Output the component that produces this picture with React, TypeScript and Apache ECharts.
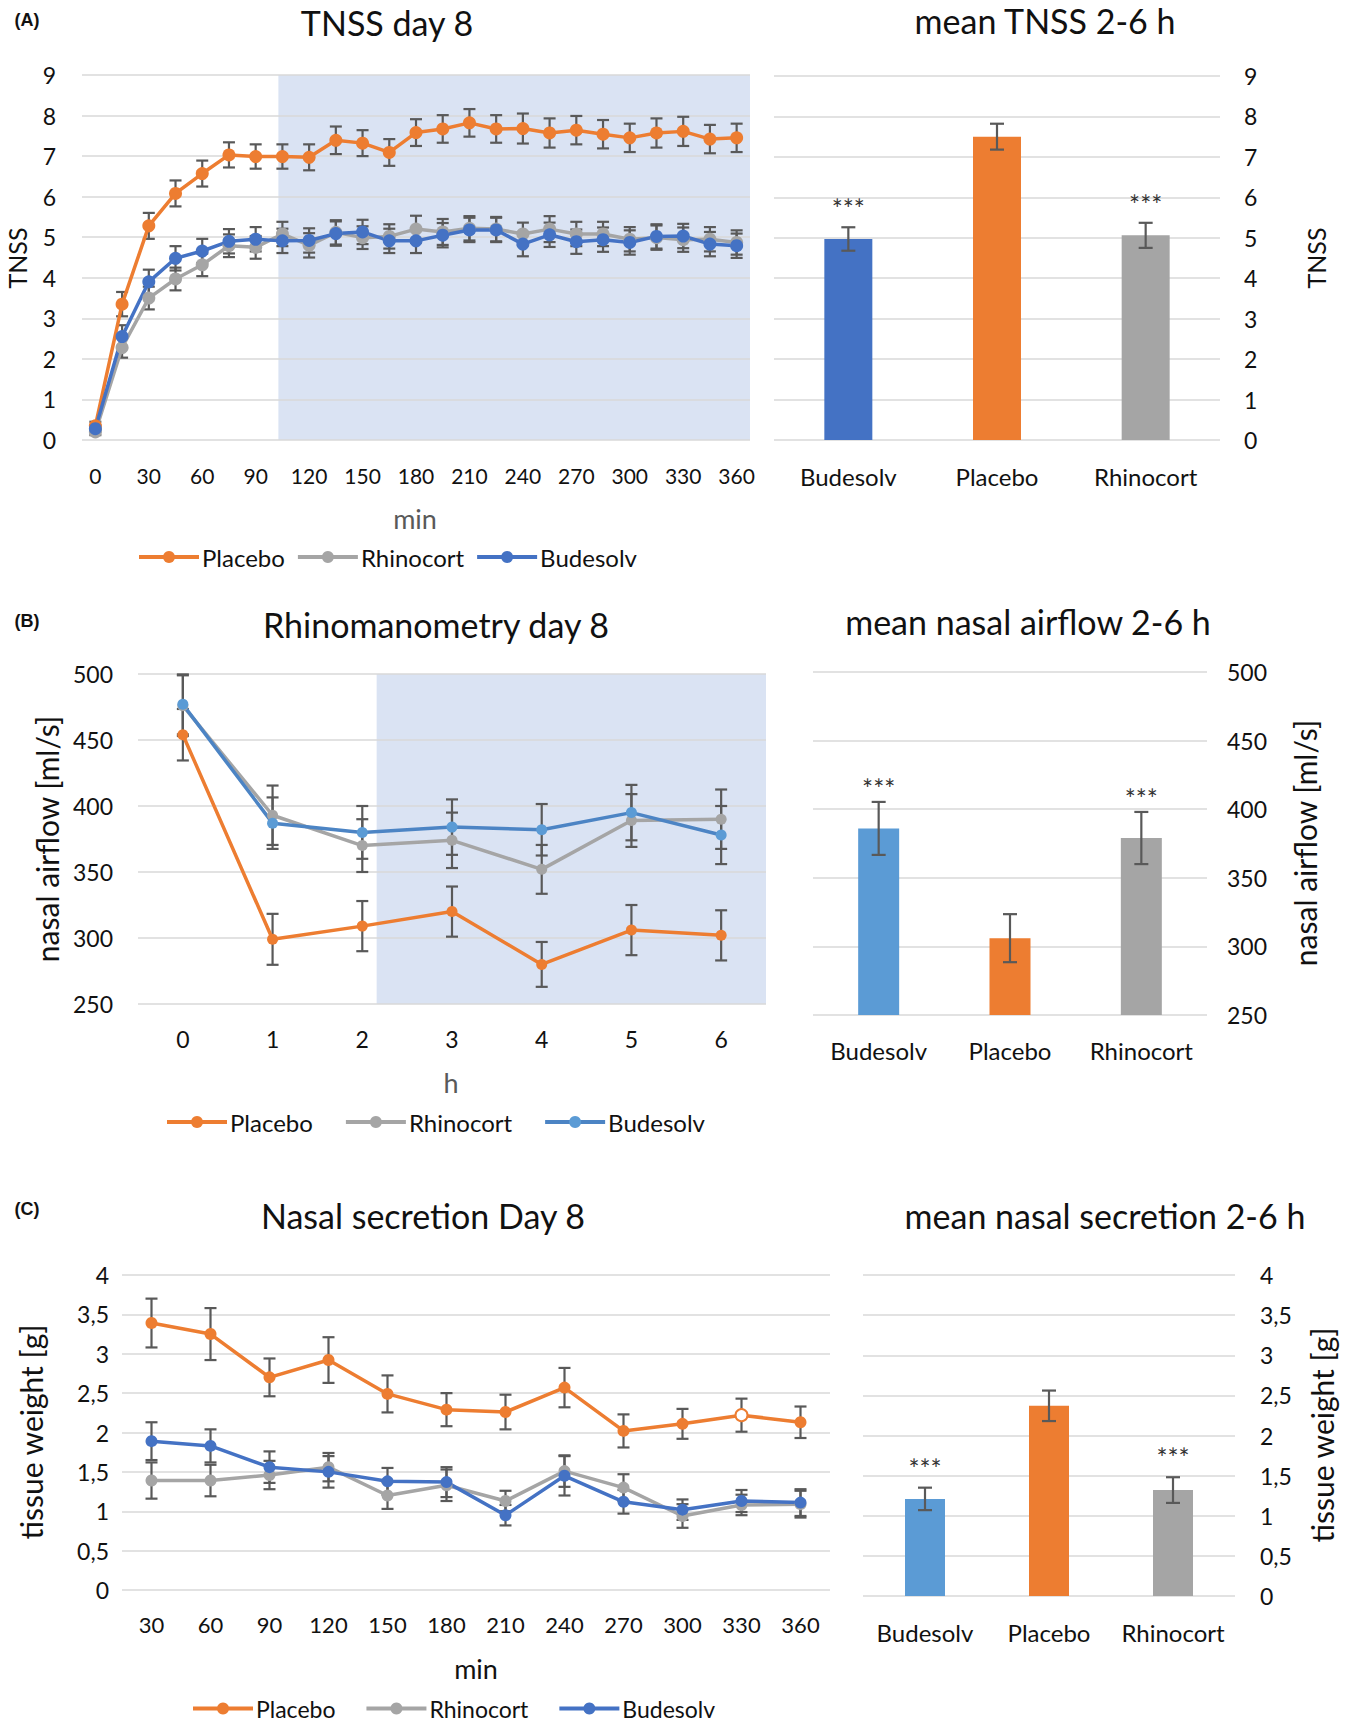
import React, { useEffect, useRef } from 'react';
import * as echarts from 'echarts';

// ---------- Panel A: TNSS ----------
const TNSS_TIME = ['0', '15', '30', '45', '60', '75', '90', '105', '120', '135', '150', '165', '180', '195', '210', '225', '240', '255', '270', '285', '300', '315', '330', '345', '360'];
const TNSS_PLACEBO = [0.35, 3.35, 5.28, 6.08, 6.57, 7.03, 6.99, 6.99, 6.97, 7.39, 7.32, 7.09, 7.58, 7.67, 7.82, 7.67, 7.68, 7.57, 7.64, 7.54, 7.45, 7.57, 7.61, 7.42, 7.45];
const TNSS_PLACEBO_ERR = [0.1, 0.3, 0.32, 0.32, 0.32, 0.31, 0.3, 0.3, 0.32, 0.34, 0.32, 0.33, 0.33, 0.34, 0.34, 0.34, 0.37, 0.36, 0.35, 0.35, 0.35, 0.36, 0.36, 0.35, 0.35];
const TNSS_RHINO = [0.2, 2.28, 3.5, 3.97, 4.32, 4.79, 4.75, 5.08, 4.8, 5.12, 4.99, 5.02, 5.2, 5.13, 5.22, 5.2, 5.08, 5.2, 5.08, 5.08, 4.95, 4.99, 4.94, 4.95, 4.87];
const TNSS_RHINO_ERR = [0.08, 0.25, 0.28, 0.28, 0.28, 0.28, 0.28, 0.3, 0.3, 0.3, 0.28, 0.3, 0.33, 0.32, 0.3, 0.3, 0.28, 0.32, 0.3, 0.3, 0.3, 0.3, 0.3, 0.3, 0.3];
const TNSS_BUDE = [0.28, 2.55, 3.9, 4.48, 4.66, 4.9, 4.95, 4.91, 4.92, 5.09, 5.13, 4.91, 4.91, 5.05, 5.18, 5.18, 4.83, 5.06, 4.89, 4.94, 4.87, 5.02, 5.03, 4.83, 4.79];
const TNSS_BUDE_ERR = [0.08, 0.28, 0.3, 0.3, 0.3, 0.3, 0.3, 0.3, 0.3, 0.3, 0.3, 0.3, 0.3, 0.3, 0.3, 0.3, 0.3, 0.3, 0.3, 0.3, 0.3, 0.3, 0.3, 0.3, 0.3];
const TNSS_SHADE = [7.35, 25]; // shaded band, in category-band units
const GROUPS = ['Budesolv', 'Placebo', 'Rhinocort'];
const TNSS_MEAN = [4.97, 7.5, 5.06];
const TNSS_MEAN_ERR = [0.29, 0.32, 0.31];
const TNSS_SIG = ['***', '', '***'];

// ---------- Panel B: Rhinomanometry ----------
const RHINO_TIME = ['0', '1', '2', '3', '4', '5', '6'];
const AIR_PLACEBO = [454, 299, 309, 320, 280, 306, 302];
const AIR_PLACEBO_ERR = [19.5, 19.3, 19, 19, 17, 19, 19];
const AIR_RHINO = [476, 393, 370, 374, 352, 389, 390];
const AIR_RHINO_ERR = [23, 22.5, 20, 21, 18.5, 20, 22.5];
const AIR_BUDE = [477, 387, 380, 384, 382, 395, 378];
const AIR_BUDE_ERR = [22.7, 19.5, 20, 21, 19.5, 21, 22];
const AIR_SHADE = [2.66, 7];
const AIR_MEAN = [386, 306, 379];
const AIR_MEAN_ERR = [19.3, 17.5, 19];
const AIR_SIG = ['***', '', '***'];

// ---------- Panel C: Nasal secretion ----------
const SEC_TIME = ['30', '60', '90', '120', '150', '180', '210', '240', '270', '300', '330', '360'];
const SEC_PLACEBO = [3.39, 3.25, 2.7, 2.92, 2.49, 2.29, 2.26, 2.57, 2.02, 2.11, 2.22, 2.13];
const SEC_PLACEBO_ERR = [0.31, 0.33, 0.24, 0.29, 0.235, 0.21, 0.22, 0.25, 0.21, 0.19, 0.21, 0.2];
const SEC_RHINO = [1.39, 1.39, 1.46, 1.56, 1.2, 1.33, 1.13, 1.51, 1.3, 0.94, 1.08, 1.09];
const SEC_RHINO_ERR = [0.23, 0.2, 0.18, 0.18, 0.17, 0.2, 0.13, 0.2, 0.17, 0.15, 0.13, 0.17];
const SEC_BUDE = [1.89, 1.83, 1.56, 1.5, 1.38, 1.37, 0.95, 1.45, 1.12, 1.02, 1.13, 1.11];
const SEC_BUDE_ERR = [0.24, 0.21, 0.2, 0.2, 0.17, 0.19, 0.13, 0.25, 0.15, 0.13, 0.14, 0.17];
const SEC_HOLLOW_PLACEBO = [10]; // index of the open marker
const SEC_MEAN = [1.21, 2.37, 1.32];
const SEC_MEAN_ERR = [0.14, 0.19, 0.16];
const SEC_SIG = ['***', '', '***'];

// ---------- style ----------
const FONT = "Lato, 'Open Sans', sans-serif";
const TEXT = '#111111';
const GRID_LINE = '#D9D9D9';
const ERR = '#595959';
const ORANGE = '#ED7D31';
const GRAY = '#A5A5A5';
const BLUE = '#4472C4';
const LBLUE = '#5B9BD5';
const BLUE_B_LINE = '#4C84C4';
const SHADE = '#DAE3F3';

const errRender = (capHalf: number, sig?: string[], sigOffset = 18) => (params: any, api: any) => {
  const c = api.value(0);
  const v = api.value(1);
  const e = api.value(2);
  const top = api.coord([c, v + e]);
  const bot = api.coord([c, v - e]);
  const st = { stroke: ERR, lineWidth: 2.2 };
  const children: any[] = [
    { type: 'line', shape: { x1: top[0], y1: top[1], x2: bot[0], y2: bot[1] }, style: st },
    { type: 'line', shape: { x1: top[0] - capHalf, y1: top[1], x2: top[0] + capHalf, y2: top[1] }, style: st },
    { type: 'line', shape: { x1: bot[0] - capHalf, y1: bot[1], x2: bot[0] + capHalf, y2: bot[1] }, style: st },
  ];
  if (sig && sig[params.dataIndex]) {
    children.push({
      type: 'text',
      x: top[0],
      y: top[1] - sigOffset,
      style: { text: sig[params.dataIndex], fontSize: 26, fontFamily: FONT, fill: '#333', align: 'center', verticalAlign: 'middle' },
    });
  }
  return { type: 'group', children };
};

const shadeRender = (params: any, api: any) => {
  const cs = params.coordSys;
  const x1 = api.coord([api.value(0), 0])[0];
  const x2 = api.coord([api.value(1), 0])[0];
  return { type: 'rect', shape: { x: x1, y: cs.y, width: x2 - x1, height: cs.height }, style: { fill: SHADE } };
};

const catAxis = (gridIndex: number, data: string[], fontSize: number, margin: number, interval = 0) => ({
  type: 'category',
  gridIndex,
  data,
  boundaryGap: true,
  axisLine: { show: false },
  axisTick: { show: false },
  splitLine: { show: false },
  axisLabel: { interval, fontSize, margin, color: TEXT, fontFamily: FONT },
});

const valAxis = (gridIndex: number, min: number, max: number, interval: number, position: string, margin: number, fontSize: number, comma = false) => ({
  type: 'value',
  gridIndex,
  min,
  max,
  interval,
  position,
  axisLine: { show: false },
  axisTick: { show: false },
  splitLine: { show: true, lineStyle: { color: GRID_LINE, width: 1.5 } },
  axisLabel: {
    fontSize,
    margin,
    color: TEXT,
    fontFamily: FONT,
    formatter: (v: number) => (comma ? String(v).replace('.', ',') : String(v)),
  },
});

const lineSeries = (name: string, xi: number, yi: number, data: any[], lineColor: string, markColor: string, size: number) => ({
  name,
  type: 'line',
  xAxisIndex: xi,
  yAxisIndex: yi,
  data,
  symbol: 'circle',
  symbolSize: size,
  showSymbol: true,
  lineStyle: { color: lineColor, width: 3.5 },
  itemStyle: { color: markColor },
  z: 4,
  silent: true,
});

const errSeries = (xi: number, yi: number, vals: number[], errs: number[], cap: number, sig?: string[], off?: number) => ({
  type: 'custom',
  xAxisIndex: xi,
  yAxisIndex: yi,
  data: vals.map((v, i) => [i, v, errs[i]]),
  renderItem: errRender(cap, sig, off),
  z: 3,
  silent: true,
});

const barSeries = (xi: number, yi: number, vals: number[], colors: string[], width: number) => ({
  type: 'bar',
  xAxisIndex: xi,
  yAxisIndex: yi,
  data: vals.map((v, i) => ({ value: v, itemStyle: { color: colors[i] } })),
  barWidth: width,
  z: 2,
  silent: true,
});

const txt = (text: string, x: number, y: number, size: number, o: any = {}) => ({
  type: 'text',
  x,
  y,
  rotation: o.rot || 0,
  silent: true,
  style: {
    text,
    fontSize: size,
    fontFamily: o.family || FONT,
    fontWeight: o.weight || 'normal',
    fill: o.color || TEXT,
    align: 'center',
    verticalAlign: 'middle',
  },
});

const legend = (names: string[], left: number, top: number, gap: number, size = 24) => ({
  data: names,
  left,
  top,
  itemGap: gap,
  itemWidth: 60,
  itemHeight: 15,
  selectedMode: false,
  formatter: (n: string) => n.trim(),
  lineStyle: { width: 4 },
  textStyle: { fontSize: size, fontFamily: FONT, color: TEXT, padding: [0, 0, 0, -2] },
});

function buildOption() {
  const hollow = SEC_PLACEBO.map((v, i) =>
    SEC_HOLLOW_PLACEBO.includes(i) ? { value: v, itemStyle: { color: '#ffffff', borderColor: ORANGE, borderWidth: 2 } } : v
  );
  const R = Math.PI / 2;
  return {
    animation: false,
    backgroundColor: '#ffffff',
    grid: [
      { left: 82, top: 75, width: 668, height: 365 },
      { left: 774, top: 76, width: 446, height: 364 },
      { left: 138, top: 674, width: 628, height: 330 },
      { left: 813, top: 672, width: 394, height: 343 },
      { left: 122, top: 1275, width: 708, height: 315 },
      { left: 863, top: 1275, width: 372, height: 321 },
    ],
    xAxis: [
      catAxis(0, TNSS_TIME, 21, 25, 1),
      { type: 'value', gridIndex: 0, min: 0, max: TNSS_TIME.length, show: false },
      catAxis(1, GROUPS, 24, 24),
      catAxis(2, RHINO_TIME, 23, 23),
      { type: 'value', gridIndex: 2, min: 0, max: RHINO_TIME.length, show: false },
      catAxis(3, GROUPS, 24, 23),
      catAxis(4, SEC_TIME, 22, 23),
      catAxis(5, GROUPS, 24, 24),
    ],
    yAxis: [
      valAxis(0, 0, 9, 1, 'left', 26, 23),
      valAxis(1, 0, 9, 1, 'right', 24, 23),
      valAxis(2, 250, 500, 50, 'left', 25, 23),
      valAxis(3, 250, 500, 50, 'right', 20, 23),
      valAxis(4, 0, 4, 0.5, 'left', 13, 23, true),
      valAxis(5, 0, 4, 0.5, 'right', 25, 23, true),
    ],
    legend: [
      legend(['Placebo', 'Rhinocort', 'Budesolv'], 132, 540, 11),
      legend(['Placebo ', 'Rhinocort ', 'Budesolv '], 160, 1105, 31),
      legend(['Placebo  ', 'Rhinocort  ', 'Budesolv  '], 186, 1692, 29, 23),
    ],
    series: [
      // shading
      { type: 'custom', xAxisIndex: 1, yAxisIndex: 0, data: [TNSS_SHADE], renderItem: shadeRender, z: -1, silent: true },
      { type: 'custom', xAxisIndex: 4, yAxisIndex: 2, data: [AIR_SHADE], renderItem: shadeRender, z: -1, silent: true },
      // Panel A lines
      errSeries(0, 0, TNSS_PLACEBO, TNSS_PLACEBO_ERR, 6),
      errSeries(0, 0, TNSS_RHINO, TNSS_RHINO_ERR, 6),
      errSeries(0, 0, TNSS_BUDE, TNSS_BUDE_ERR, 6),
      lineSeries('Placebo', 0, 0, TNSS_PLACEBO, ORANGE, ORANGE, 13),
      lineSeries('Rhinocort', 0, 0, TNSS_RHINO, GRAY, GRAY, 13),
      lineSeries('Budesolv', 0, 0, TNSS_BUDE, BLUE, BLUE, 13),
      // Panel A bars
      barSeries(2, 1, TNSS_MEAN, [BLUE, ORANGE, GRAY], 48),
      errSeries(2, 1, TNSS_MEAN, TNSS_MEAN_ERR, 7, TNSS_SIG, 18),
      // Panel B lines
      errSeries(3, 2, AIR_PLACEBO, AIR_PLACEBO_ERR, 6),
      errSeries(3, 2, AIR_RHINO, AIR_RHINO_ERR, 6),
      errSeries(3, 2, AIR_BUDE, AIR_BUDE_ERR, 6),
      lineSeries('Placebo ', 3, 2, AIR_PLACEBO, ORANGE, ORANGE, 11),
      lineSeries('Rhinocort ', 3, 2, AIR_RHINO, GRAY, GRAY, 11),
      lineSeries('Budesolv ', 3, 2, AIR_BUDE, BLUE_B_LINE, LBLUE, 11),
      // Panel B bars
      barSeries(5, 3, AIR_MEAN, [LBLUE, ORANGE, GRAY], 41),
      errSeries(5, 3, AIR_MEAN, AIR_MEAN_ERR, 7, AIR_SIG, 13),
      // Panel C lines
      errSeries(6, 4, SEC_PLACEBO, SEC_PLACEBO_ERR, 6),
      errSeries(6, 4, SEC_RHINO, SEC_RHINO_ERR, 6),
      errSeries(6, 4, SEC_BUDE, SEC_BUDE_ERR, 6),
      lineSeries('Placebo  ', 6, 4, hollow, ORANGE, ORANGE, 12),
      lineSeries('Rhinocort  ', 6, 4, SEC_RHINO, GRAY, GRAY, 12),
      lineSeries('Budesolv  ', 6, 4, SEC_BUDE, BLUE, BLUE, 12),
      // Panel C bars
      barSeries(7, 5, SEC_MEAN, [LBLUE, ORANGE, GRAY], 40),
      errSeries(7, 5, SEC_MEAN, SEC_MEAN_ERR, 7, SEC_SIG, 19),
    ],
    graphic: [
      txt('(A)', 27, 20, 18, { weight: 'bold', family: "'Liberation Sans', Arial, sans-serif" }),
      txt('(B)', 27, 621, 18, { weight: 'bold', family: "'Liberation Sans', Arial, sans-serif" }),
      txt('(C)', 27, 1209, 18, { weight: 'bold', family: "'Liberation Sans', Arial, sans-serif" }),
      txt('TNSS day 8', 387, 22, 34),
      txt('mean TNSS 2-6 h', 1045, 20, 34),
      txt('Rhinomanometry day 8', 436, 624, 34),
      txt('mean nasal airflow 2-6 h', 1028, 621, 34),
      txt('Nasal secretion Day 8', 423, 1215, 34),
      txt('mean nasal secretion 2-6 h', 1105, 1215, 34),
      txt('min', 415, 518, 27, { color: '#595959' }),
      txt('h', 451, 1082, 27, { color: '#595959' }),
      txt('min', 476, 1668, 27),
      txt('TNSS', 17, 258, 25, { rot: R }),
      txt('TNSS', 1316, 258, 25, { rot: R }),
      txt('nasal airflow [ml/s]', 47, 839, 30, { rot: R }),
      txt('nasal airflow [ml/s]', 1305, 843, 30, { rot: R }),
      txt('tissue weight [g]', 31, 1432, 30, { rot: R }),
      txt('tissue weight [g]', 1322, 1435, 30, { rot: R }),
    ],
  };
}

export default function App() {
  const ref = useRef<HTMLDivElement>(null);
  useEffect(() => {
    const chart = echarts.init(ref.current as HTMLDivElement, null, { renderer: 'svg' });
    chart.setOption(buildOption() as any);
    return () => chart.dispose();
  }, []);
  return (
    <div
      ref={ref}
      style={{ position: 'absolute', left: 0, top: 0, width: 1352, height: 1724, background: '#ffffff' }}
    />
  );
}
